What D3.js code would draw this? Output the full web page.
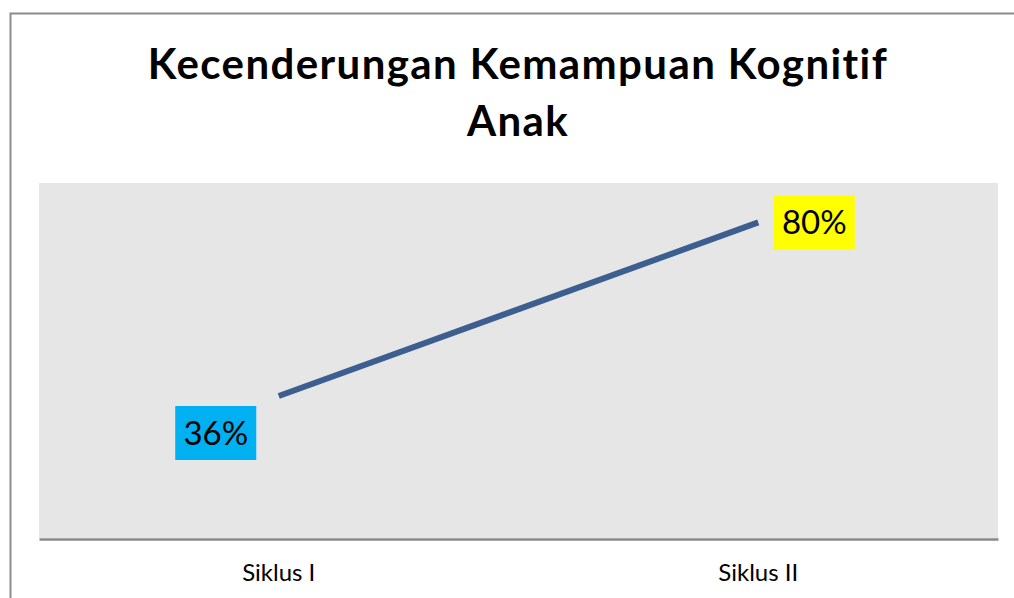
<!DOCTYPE html>
<html>
<head>
<meta charset="utf-8">
<script src="https://cdn.jsdelivr.net/npm/d3@7"></script>
<style>
  body { margin: 0; background: #fff; }
  svg { display: block; }
</style>
</head>
<body>
<div id="chart-area"></div>
<script>
var categories = ["Siklus I", "Siklus II"];
var values = [0.36, 0.80];
var labelColors = ["#00b0f0", "#ffff00"];
var titleLines = ["Kecenderungan Kemampuan Kognitif", "Anak"];

var W = 1014, H = 598;
var plot = {left: 39, right: 998, top: 183, bottom: 538};
var font = "Lato, 'Open Sans', sans-serif";

var svg = d3.select("#chart-area")
  .append("svg")
  .attr("width", W)
  .attr("height", H);

// outer border (top + left visible)
svg.append("path")
  .attr("d", "M10.5,598 L10.5,13.5 L1014,13.5")
  .attr("fill", "none")
  .attr("stroke", "#8c8c8c")
  .attr("stroke-width", 2);

svg.selectAll(".title")
  .data(titleLines)
  .enter()
  .append("text")
  .attr("class", "title")
  .attr("x", 518)
  .attr("y", (d, i) => 79 + i * 57)
  .attr("text-anchor", "middle")
  .attr("font-family", font)
  .attr("font-weight", "bold")
  .attr("font-size", "42px")
  .attr("letter-spacing", "1.4px")
  .attr("fill", "#000")
  .text((d) => d);

var xScale = d3.scaleBand().domain(categories).range([plot.left, plot.right]);
var yScale = d3.scaleLinear().domain([0, 0.9]).range([plot.bottom, plot.top]);

svg.append("rect")
  .attr("x", plot.left)
  .attr("y", plot.top)
  .attr("width", plot.right - plot.left)
  .attr("height", plot.bottom - plot.top)
  .attr("fill", "#e6e6e6");

var xAxis = d3.axisBottom(xScale).tickSize(0).tickPadding(25);

var xAxisGroup = svg.append("g")
  .attr("transform", "translate(0," + (plot.bottom + 1) + ")")
  .call(xAxis);

xAxisGroup.select(".domain")
  .attr("stroke", "#888")
  .attr("stroke-width", 2.5);

xAxisGroup.selectAll("text")
  .attr("font-family", font)
  .attr("font-size", "24px")
  .attr("fill", "#000");

var cx = (d, i) => xScale(categories[i]) + xScale.bandwidth() / 2;

var line = d3.line()
  .x((d, i) => cx(d, i))
  .y((d) => yScale(d));

svg.append("path")
  .datum(values)
  .attr("d", line)
  .attr("fill", "none")
  .attr("stroke", "#3c5f8f")
  .attr("stroke-width", 6);

// data labels
var offsets = [[-63, 37], [56, 0]];
var bw = 81, bh = 54;

var labels = svg.selectAll(".lbl")
  .data(values)
  .enter()
  .append("g")
  .attr("class", "lbl")
  .attr("transform", (d, i) => "translate(" + (cx(d, i) + offsets[i][0]) + "," + (yScale(d) + offsets[i][1]) + ")");

labels.append("rect")
  .attr("x", -bw / 2)
  .attr("y", -bh / 2)
  .attr("width", bw)
  .attr("height", bh)
  .attr("fill", (d, i) => labelColors[i]);

labels.append("text")
  .attr("text-anchor", "middle")
  .attr("dy", "0.36em")
  .attr("font-family", font)
  .attr("font-size", "33px")
  .attr("fill", "#000")
  .text((d) => Math.round(d * 100) + "%");
</script>
</body>
</html>
